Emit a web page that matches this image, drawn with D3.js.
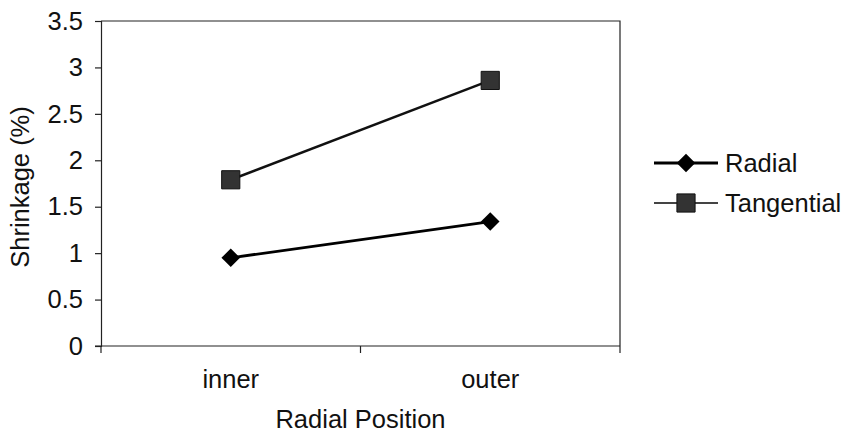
<!DOCTYPE html>
<html><head><meta charset="utf-8">
<script src="https://cdn.jsdelivr.net/npm/d3@7"></script>
<style>body{margin:0;background:#fff}svg{display:block}text{font-family:"Liberation Sans",Arial,sans-serif;fill:#111}</style>
</head><body><svg id="c" width="849" height="436"></svg>
<script>
const categories = ["inner", "outer"];
const radial = [0.95, 1.34];
const tangential = [1.79, 2.86];
const yTicks = [0, 0.5, 1, 1.5, 2, 2.5, 3, 3.5];
const seriesNames = ["Radial", "Tangential"];

const svg = d3.select("#c");
const m = {l:101, r:620, t:21, b:346};
const x = d3.scaleBand().domain(categories).range([m.l, m.r]);
const y = d3.scaleLinear().domain([0, 3.5]).range([m.b, m.t]);
const fs = 25.5;

svg.append("path").attr("d", `M${m.l},${m.t}H${m.r}V${m.b}`).attr("fill","none").attr("stroke","#222").attr("stroke-width",1.2);

const yAxis = svg.append("g").attr("transform",`translate(${m.l},0)`)
  .call(d3.axisLeft(y).tickValues(yTicks).tickSize(6).tickPadding(12).tickFormat(d3.format("")));
const xAxis = svg.append("g").attr("transform",`translate(0,${m.b})`)
  .call(d3.axisBottom(x).tickSize(0).tickPadding(24));
const bounds = [m.l, m.l + x.bandwidth(), m.r];
xAxis.selectAll(".bt").data(bounds).enter().append("line")
  .attr("x1", d=>d).attr("x2", d=>d).attr("y1",0).attr("y2",7).attr("stroke","#222").attr("stroke-width",1.2);
[yAxis, xAxis].forEach(g=>{
  g.select(".domain").attr("stroke","#222").attr("stroke-width",1.2);
  g.selectAll(".tick line").attr("stroke","#222").attr("stroke-width",1.2);
  g.selectAll("text").attr("font-size",fs).attr("font-family",'"Liberation Sans",Arial,sans-serif').attr("fill","#111");
});
xAxis.select(".domain").attr("d", `M${m.l-6},0H${m.r}`);

const line = d3.line().x((d,i)=>x(categories[i]) + x.bandwidth()/2).y(d=>y(d));
svg.append("path").datum(radial).attr("d", line).attr("fill","none").attr("stroke","#000").attr("stroke-width",2.8);
svg.append("path").datum(tangential).attr("d", line).attr("fill","none").attr("stroke","#111").attr("stroke-width",2.5);

const diamond = d3.symbol().type(d3.symbolDiamond2).size(220);
const square = d3.symbol().type(d3.symbolSquare).size(330);
svg.selectAll(".rm").data(radial).enter().append("path")
  .attr("d", diamond).attr("transform",(d,i)=>`translate(${x(categories[i])+x.bandwidth()/2},${y(d)})`).attr("fill","#000");
svg.selectAll(".tm").data(tangential).enter().append("path")
  .attr("d", square).attr("transform",(d,i)=>`translate(${x(categories[i])+x.bandwidth()/2},${y(d)})`).attr("fill","#333").attr("stroke","#111").attr("stroke-width",1);

svg.append("text").attr("x", (m.l+m.r)/2).attr("y", 428).attr("text-anchor","middle").attr("font-size",fs).text("Radial Position");
svg.append("text").attr("transform",`translate(29,187) rotate(-90)`).attr("text-anchor","middle").attr("font-size",fs).text("Shrinkage (%)");

const lg = svg.append("g");
seriesNames.forEach((n,i)=>{
  const yy = 163 + i*40;
  lg.append("line").attr("x1",654).attr("x2",718).attr("y1",yy).attr("y2",yy).attr("stroke", i?"#444":"#000").attr("stroke-width", i?2:2.8);
  lg.append("path").attr("d", i?square:diamond).attr("transform",`translate(686,${yy})`).attr("fill", i?"#333":"#000").attr("stroke", i?"#111":"none");
  lg.append("text").attr("x",725).attr("y",yy+9).attr("font-size",fs).text(n);
});
</script></body></html>
